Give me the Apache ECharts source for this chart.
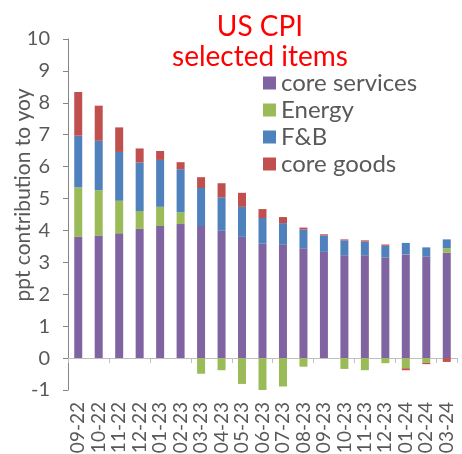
<!DOCTYPE html>
<html>
<head>
<meta charset="utf-8">
<title>US CPI selected items</title>
<script src="https://cdn.jsdelivr.net/npm/echarts@6/dist/echarts.min.js"></script>
<style>
html,body{margin:0;padding:0;background:#fff;}
#chart{width:462px;height:454px;}
</style>
</head>
<body>
<div id="chart"></div>
<script>
var _$ = function(_id){return document.getElementById(_id)};

// 数据
var months = ['09-22','10-22','11-22','12-22','01-23','02-23','03-23','04-23','05-23','06-23','07-23','08-23','09-23','10-23','11-23','12-23','01-24','02-24','03-24'];
var coreServices = [3.80,3.84,3.91,4.05,4.14,4.20,4.14,3.99,3.80,3.59,3.55,3.44,3.33,3.22,3.22,3.15,3.25,3.18,3.30];
var energy = [1.55,1.42,1.02,0.56,0.60,0.37,-0.49,-0.38,-0.81,-1.06,-0.89,-0.27,0,-0.34,-0.38,-0.16,-0.32,-0.15,0.14];
var fandb = [1.62,1.55,1.53,1.52,1.47,1.35,1.19,1.05,0.94,0.80,0.68,0.59,0.51,0.47,0.43,0.37,0.36,0.29,0.28];
var coreGoods = [1.37,1.10,0.77,0.44,0.28,0.22,0.34,0.44,0.44,0.28,0.19,0.06,0.04,0.03,0.04,0.04,-0.06,-0.04,-0.12];
var seriesNames = ['core services','Energy','F&B','core goods'];
var yTicks = [-1,10,1]; // min, max, interval

function drawChart(){
	var chart = _$('chart');
	var myChart = echarts.init(chart, null, {renderer: 'canvas'});
	var font = 'Lato, "Open Sans", sans-serif';
	var colors = ['#8064A2','#9BBB59','#4F81BD','#C0504D'];
	var allData = [coreServices, energy, fandb, coreGoods];
	var series = [];
	for(var i = 0; i < allData.length; i++){
		series.push({
			name: seriesNames[i],
			type: 'bar',
			stack: 'cpi',
			barWidth: 8,
			itemStyle: {color: colors[i]},
			data: allData[i]
		});
	}
	var option = {
		animation: false,
		title: {
			text: 'US CPI\nselected items',
			left: 255,
			top: 7,
			textAlign: 'center',
			textStyle: {
				color: '#FF0000',
				fontFamily: font,
				fontWeight: 'normal',
				fontSize: 28,
				lineHeight: 30
			}
		},
		legend: {
			data: seriesNames,
			orient: 'vertical',
			left: 258,
			top: 66,
			icon: 'rect',
			itemWidth: 13,
			itemHeight: 13,
			itemGap: 3,
			textStyle: {color: '#595959', fontFamily: font, fontSize: 24}
		},
		grid: {left: 68, right: 5, top: 39, bottom: 64, outerBoundsMode: 'none', containLabel: false},
		xAxis: [
			{
				type: 'category',
				data: months,
				axisLine: {onZero: true, lineStyle: {color: '#BFBFBF', width: 1}},
				axisTick: {show: true, length: 5, lineStyle: {color: '#BFBFBF'}},
				axisLabel: {show: false}
			},
			{
				type: 'category',
				data: months,
				position: 'bottom',
				axisLine: {show: false, onZero: false},
				axisTick: {show: false},
				axisLabel: {
					rotate: 90,
					interval: 0,
					margin: 12,
					color: '#595959',
					fontFamily: font,
					fontSize: 19
				}
			}
		],
		yAxis: {
			type: 'value',
			min: yTicks[0],
			max: yTicks[1],
			interval: yTicks[2],
			name: 'ppt contribution to yoy',
			nameLocation: 'middle',
			nameGap: 34,
			nameMoveOverlap: false,
			nameTextStyle: {color: '#595959', fontFamily: font, fontSize: 21, padding: [0, 0, 0, 39]},
			axisLine: {show: true, lineStyle: {color: '#868686'}},
			axisTick: {show: true, length: 5, lineStyle: {color: '#868686'}},
			axisLabel: {color: '#595959', fontFamily: font, fontSize: 20, margin: 18},
			splitLine: {show: false}
		},
		series: series
	};
	myChart.setOption(option);
};
window.addEventListener('load', drawChart);
</script>
</body>
</html>
